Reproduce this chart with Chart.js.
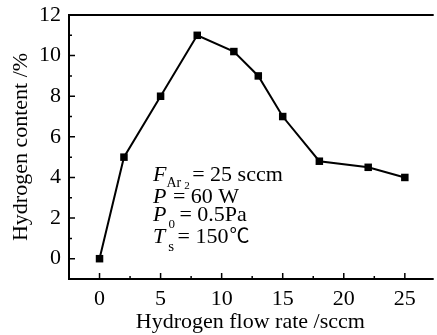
<!DOCTYPE html>
<html>
<head>
<meta charset="utf-8">
<script src="https://cdn.jsdelivr.net/npm/chart.js@4/dist/chart.umd.min.js"></script>
<style>
  html, body { margin: 0; padding: 0; background: #fff; }
  #wrap { width: 437px; height: 335px; }
</style>
</head>
<body>
<div id="wrap"><canvas id="hChart" width="437" height="335"></canvas></div>
<script>
// data
const flowRate = [0, 2, 5, 8, 11, 13, 15, 18, 22, 25];
const hContent = [0, 5, 8, 11, 10.2, 9, 7, 4.8, 4.5, 4];
const xTicks = [0, 5, 10, 15, 20, 25];
const yTicks = [0, 2, 4, 6, 8, 10, 12];
const xMinor = [2.5, 7.5, 12.5, 17.5, 22.5];
const yMinor = [1, 3, 5, 7, 9, 11];

const serif = "'Liberation Serif', 'Times New Roman', serif";
const fs = 22;

// inward ticks + frame
const frameTicks = {
  id: "frameTicks",
  afterDraw(chart) {
    const ctx = chart.ctx;
    const a = chart.chartArea;
    const xs = chart.scales.x, ys = chart.scales.y;
    ctx.save();
    ctx.strokeStyle = "#000";
    ctx.lineWidth = 2;
    ctx.beginPath();
    ctx.moveTo(a.right + 2, a.top);
    ctx.lineTo(a.left, a.top);
    ctx.lineTo(a.left, a.bottom);
    ctx.lineTo(a.right + 2, a.bottom);
    ctx.stroke();
    ctx.lineWidth = 1.5;
    ctx.beginPath();
    xTicks.forEach(v => {
      const px = xs.getPixelForValue(v);
      ctx.moveTo(px, a.bottom); ctx.lineTo(px, a.bottom - 6);
    });
    xMinor.forEach(v => {
      const px = xs.getPixelForValue(v);
      ctx.moveTo(px, a.bottom); ctx.lineTo(px, a.bottom - 3);
    });
    yTicks.forEach(v => {
      const py = ys.getPixelForValue(v);
      ctx.moveTo(a.left, py); ctx.lineTo(a.left + 6, py);
    });
    yMinor.forEach(v => {
      const py = ys.getPixelForValue(v);
      ctx.moveTo(a.left, py); ctx.lineTo(a.left + 3, py);
    });
    ctx.stroke();
    ctx.restore();
  }
};

// conditions block, with italic symbols and subscripts
const conditions = {
  id: "conditions",
  afterDraw(chart) {
    const ctx = chart.ctx;
    ctx.save();
    ctx.fillStyle = "#000";
    ctx.textBaseline = "alphabetic";
    const big = fs + "px " + serif;
    const ital = "italic " + fs + "px " + serif;
    const put = (txt, font, x, y) => {
      ctx.font = font;
      ctx.fillText(txt, x, y);
      return x + ctx.measureText(txt).width;
    };
    let x = 153;
    // line 1
    x = put("F", ital, x, 181);
    x = put("Ar", "14px " + serif, x, 187);
    x = put("2", "11px " + serif, x + 3, 189);
    put(" = 25 sccm", big, x - 3, 181);
    // line 2
    x = put("P", ital, 153, 203);
    put(" = 60 W", big, x + 1, 203);
    // line 3
    x = put("P", ital, 153, 221);
    x = put("0", "13px " + serif, x + 2, 228);
    put(" = 0.5Pa", big, x - 1, 221);
    // line 4
    x = put("T", ital, 153, 243);
    x = put("s", "15px " + serif, x + 3, 251);
    x = put(" = 150", big, x - 2, 243);
    put("\u2103", "20px 'Noto Sans CJK SC', " + serif, x + 1, 243);
    ctx.restore();
  }
};

const ctx = document.getElementById("hChart").getContext("2d");
new Chart(ctx, {
  type: "line",
  data: {
    datasets: [{
      data: flowRate.map((f, i) => ({ x: f, y: hContent[i] })),
      borderColor: "#000",
      backgroundColor: "#000",
      borderWidth: 2,
      pointStyle: "rect",
      pointRadius: 5.3,
      pointBorderWidth: 0,
      tension: 0,
      clip: false
    }]
  },
  options: {
    responsive: false,
    animation: false,
    layout: { padding: { left: 0, right: 1, top: 15, bottom: 0 } },
    plugins: { legend: { display: false }, tooltip: { enabled: false } },
    scales: {
      x: {
        type: "linear",
        min: -2.5,
        max: 27.2,
        afterBuildTicks: s => { s.ticks = xTicks.map(v => ({ value: v })); },
        afterFit: s => { s.height = 56; s.paddingLeft = 0; s.paddingRight = 0; },
        grid: { display: false, drawTicks: false },
        border: { display: false },
        ticks: { color: "#000", padding: 7, font: { family: serif, size: fs }, maxRotation: 0 },
        title: {
          display: true, text: "Hydrogen flow rate /sccm", color: "#000",
          font: { family: serif, size: fs }, padding: { top: 2, bottom: 0 }
        }
      },
      y: {
        min: -1,
        max: 12,
        afterBuildTicks: s => { s.ticks = yTicks.map(v => ({ value: v })); },
        afterFit: s => { s.width = 69; s.paddingTop = 0; s.paddingBottom = 0; },
        grid: { display: false, drawTicks: false },
        border: { display: false },
        ticks: { color: "#000", padding: 8, font: { family: serif, size: fs } },
        title: {
          display: true, text: "Hydrogen content /%", color: "#000",
          font: { family: serif, size: fs }, padding: { top: 8, bottom: 0 }
        }
      }
    }
  },
  plugins: [frameTicks, conditions]
});
</script>
</body>
</html>
